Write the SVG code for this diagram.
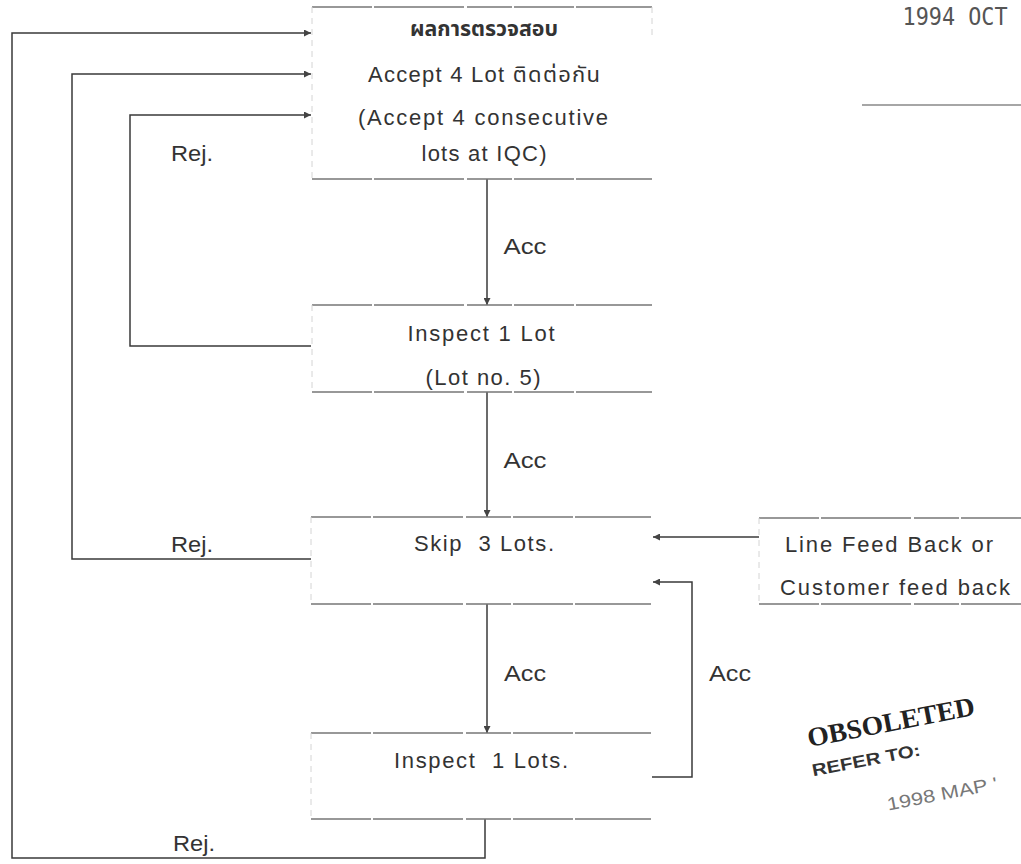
<svg xmlns="http://www.w3.org/2000/svg" width="1021" height="864" viewBox="0 0 1021 864">
<defs>
<marker id="ah" viewBox="0 0 10 10" refX="10" refY="5" markerWidth="8" markerHeight="7" markerUnits="userSpaceOnUse" orient="auto">
<path d="M0,0 L10,5 L0,10 Z" fill="#444"/>
</marker>
<style>
.t{font-family:"Liberation Sans","Noto Sans",sans-serif;font-size:22px;fill:#333;text-anchor:middle}
.th{font-family:"Liberation Sans","Noto Sans","Noto Sans Thai","Noto Sans CJK SC",sans-serif;font-size:22px;fill:#333;text-anchor:middle}
.hl{stroke:#777;stroke-width:1.3;fill:none;stroke-dasharray:60 2 90 3 45 2}
.vl{stroke:#d4d4d4;stroke-width:1;fill:none;stroke-dasharray:6 5}
.c{stroke:#3a3a3a;stroke-width:1.5;fill:none}
.ca{stroke:#3a3a3a;stroke-width:1.5;fill:none;marker-end:url(#ah)}
</style>
</defs>
<rect width="1021" height="864" fill="#fff"/>

<g id="connectors">
<polyline class="ca" points="485,819 485,858 12,858 12,33 311,33"/>
<polyline class="ca" points="311,559 72,559 72,74 311,74"/>
<polyline class="ca" points="311,346 130,346 130,115 311,115"/>
<line class="ca" x1="487" y1="179" x2="487" y2="305"/>
<line class="ca" x1="487" y1="392" x2="487" y2="517"/>
<line class="ca" x1="487" y1="604" x2="487" y2="733"/>
<line class="ca" x1="759" y1="537" x2="653" y2="537"/>
<polyline class="ca" points="652,777 692,777 692,582 653,582"/>
<text class="t" x="192" y="161" textLength="42" lengthAdjust="spacingAndGlyphs">Rej.</text>
<text class="t" x="525" y="254" textLength="43" lengthAdjust="spacingAndGlyphs">Acc</text>
<text class="t" x="525" y="468" textLength="43" lengthAdjust="spacingAndGlyphs">Acc</text>
<text class="t" x="192" y="552" textLength="42" lengthAdjust="spacingAndGlyphs">Rej.</text>
<text class="t" x="525" y="681" textLength="42" lengthAdjust="spacingAndGlyphs">Acc</text>
<text class="t" x="730" y="681" textLength="42" lengthAdjust="spacingAndGlyphs">Acc</text>
<text class="t" x="194" y="851" textLength="42" lengthAdjust="spacingAndGlyphs">Rej.</text>
</g>

<g id="node-result">
<line class="hl" x1="312" y1="7" x2="652" y2="7"/>
<line class="hl" x1="312" y1="179" x2="652" y2="179"/>
<line class="vl" x1="312" y1="7" x2="312" y2="179"/>
<line class="vl" x1="652" y1="7" x2="652" y2="40"/>
<text class="th" x="484" y="36" font-weight="bold" textLength="148" lengthAdjust="spacingAndGlyphs">ผลการตรวจสอบ</text>
<text class="th" x="484" y="82" textLength="232" lengthAdjust="spacing">Accept 4 Lot ติดต่อกัน</text>
<text class="t" x="483" y="125" textLength="250" lengthAdjust="spacing">(Accept 4 consecutive</text>
<text class="t" x="484" y="161" textLength="125" lengthAdjust="spacing">lots at IQC)</text>
</g>

<g id="node-inspect1">
<line class="hl" x1="312" y1="305" x2="652" y2="305"/>
<line class="hl" x1="312" y1="392" x2="652" y2="392"/>
<line class="vl" x1="312" y1="305" x2="312" y2="392"/>
<text class="t" x="481" y="341" textLength="147" lengthAdjust="spacing">Inspect 1 Lot</text>
<text class="t" x="483" y="385" textLength="115" lengthAdjust="spacing">(Lot no. 5)</text>
</g>

<g id="node-skip">
<line class="hl" x1="311" y1="517" x2="651" y2="517"/>
<line class="hl" x1="311" y1="604" x2="651" y2="604"/>
<line class="vl" x1="311" y1="517" x2="311" y2="604"/>
<text class="t" x="484" y="551" textLength="140" lengthAdjust="spacing" xml:space="preserve">Skip  3 Lots.</text>
</g>

<g id="node-feedback">
<line class="hl" x1="759" y1="518" x2="1021" y2="518"/>
<line class="hl" x1="759" y1="604" x2="1021" y2="604"/>
<line class="vl" x1="759" y1="518" x2="759" y2="604"/>
<text class="t" x="889" y="552" textLength="208" lengthAdjust="spacing">Line Feed Back or</text>
<text class="t" x="895" y="595" textLength="230" lengthAdjust="spacing">Customer feed back</text>
</g>

<g id="node-inspect2">
<line class="hl" x1="311" y1="733" x2="651" y2="733"/>
<line class="hl" x1="311" y1="819" x2="651" y2="819"/>
<line class="vl" x1="311" y1="733" x2="311" y2="819"/>
<text class="t" x="481" y="768" textLength="174" lengthAdjust="spacing" xml:space="preserve">Inspect  1 Lots.</text>
</g>

<g id="stamps">
<text x="955" y="25" font-family="'DejaVu Sans Mono',monospace" font-size="24" fill="#555" text-anchor="middle" textLength="105" lengthAdjust="spacingAndGlyphs">1994 OCT</text>
<line x1="862" y1="105" x2="1021" y2="105" stroke="#888" stroke-width="1.5"/>
<text x="891" y="731" font-family="'Liberation Serif',serif" font-weight="bold" font-size="27" fill="#222" text-anchor="middle" textLength="170" lengthAdjust="spacingAndGlyphs" transform="rotate(-11 891 722)">OBSOLETED</text>
<text x="866" y="766" font-family="'Liberation Sans',sans-serif" font-weight="bold" font-size="17" fill="#333" text-anchor="middle" textLength="110" lengthAdjust="spacingAndGlyphs" transform="rotate(-11 866 759)">REFER TO:</text>
<text x="942" y="800" font-family="'Liberation Sans',sans-serif" font-size="18" fill="#777" text-anchor="middle" textLength="112" lengthAdjust="spacingAndGlyphs" transform="rotate(-11 942 793)">1998 MAP '</text>
</g>
</svg>
